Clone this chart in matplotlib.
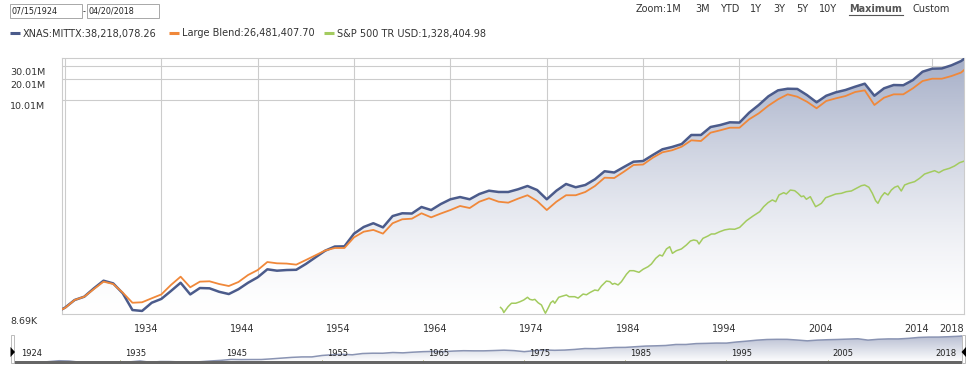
import numpy as np
import matplotlib
matplotlib.use('Agg')
import matplotlib.pyplot as plt
from matplotlib.colors import LinearSegmentedColormap
from matplotlib.patches import Rectangle, Polygon

plt.rcParams['font.family'] = ['DejaVu Sans']

# dates as fractional years
start_t = 1924.535   # 07/15/1924
end_t = 2018.30      # 04/20/2018
start_k = 10.0       # growth of 10K

# year-end values (Dec 31 of each year), in thousands
year_end = np.arange(1924, 2018)
mittx_k = [10.8, 13.9, 15.5, 20.4, 26.2, 24.0, 17.3, 10.0, 9.7, 12.7,
           14.4, 18.7, 24.5, 16.7, 20.6, 20.4, 18.2, 16.9, 19.8, 24.5,
           29.3, 38.1, 36.4, 37.2, 37.5, 45.4, 56.5, 70.2, 80.5, 81.0,
           123, 153, 173, 151, 219, 240, 238, 295, 267, 325,
           380, 409, 380, 452, 504, 483, 483, 527, 588, 515,
           380, 504, 628, 564, 608, 733, 955, 916, 1097, 1306,
           1336, 1626, 1963, 2118, 2335, 3141, 3141, 4083, 4356, 4764,
           4720, 6531, 8414, 11194, 13614, 14355, 14250, 11670, 9183, 11400,
           12764, 13772, 15346, 16943, 11400, 14555, 16218, 16100, 19099, 25119,
           27733, 27970, 30974, 35650]
blend_k = [10.7, 13.9, 15.5, 19.9, 25.4, 23.5, 17.7, 12.7, 12.9, 14.7,
           16.7, 22.8, 29.9, 21.1, 25.4, 25.7, 23.5, 22.0, 25.1, 31.6,
           37.2, 48.4, 46.4, 46.0, 44.4, 51.7, 60.4, 70.6, 76.7, 76.7,
           109, 131, 139, 123, 173, 197, 201, 240, 210, 238,
           267, 305, 285, 351, 393, 351, 340, 387, 434, 359,
           267, 351, 434, 434, 483, 588, 772, 764, 940, 1172,
           1191, 1489, 1778, 1901, 2138, 2636, 2576, 3388, 3664, 3990,
           3990, 5260, 6397, 8222, 10139, 11940, 11041, 9376, 7551, 9594,
           10471, 11298, 12882, 13614, 8414, 10691, 11940, 11940, 14555, 18493,
           19953, 19953, 21777, 24434]
mittx_last = 38218.07826
blend_last = 26481.40770

# S&P 500 TR (starts 1970)
sp_t = [1970.20, 1970.40, 1970.54, 1970.99, 1971.34, 1971.78, 1972.20, 1972.61,
        1973.00, 1973.24, 1973.52, 1973.76, 1974.10, 1974.45, 1974.69, 1974.86,
        1975.13, 1975.41, 1975.65, 1975.83, 1976.24, 1976.63, 1977.04, 1977.31,
        1977.90, 1978.25, 1978.77, 1979.12, 1979.46, 1979.98, 1980.32, 1980.67,
        1981.19, 1981.54, 1981.82, 1982.05, 1982.40, 1982.75, 1983.27, 1983.61,
        1984.02, 1984.57, 1984.99, 1985.51, 1985.86, 1986.31, 1986.72, 1987.00,
        1987.42, 1987.76, 1988.04, 1988.45, 1988.97, 1989.49, 1989.91, 1990.25,
        1990.59, 1990.80, 1991.21, 1991.73, 1992.08, 1992.43, 1992.95, 1993.46,
        1993.98, 1994.50, 1995.02, 1995.72, 1996.40, 1997.10, 1997.51, 1997.96,
        1998.41, 1998.76, 1999.10, 1999.59, 1999.86, 2000.28, 2000.73, 2001.07,
        2001.42, 2001.66, 2001.94, 2002.35, 2002.62, 2002.90, 2003.22, 2003.50,
        2003.94, 2004.53, 2004.98, 2005.57, 2006.09, 2006.61, 2007.13, 2007.65,
        2007.99, 2008.43, 2008.79, 2009.13, 2009.37, 2009.72, 2010.06, 2010.41,
        2010.76, 2011.10, 2011.44, 2011.79, 2012.14, 2012.58, 2013.17, 2013.69,
        2014.21, 2014.73, 2015.25, 2015.69, 2016.18, 2016.80, 2017.32, 2017.84,
        2018.30]
sp_k = [10.9, 10.2, 9.2, 11.2, 12.5, 12.5, 13.1, 13.9,
        15.2, 14.2, 13.9, 14.2, 12.7, 11.8, 10.0, 9.0,
        10.6, 12.7, 13.5, 12.5, 15.2, 15.8, 16.4, 15.5,
        15.5, 14.8, 16.9, 16.5, 17.7, 19.3, 18.9, 22.0,
        25.9, 25.4, 23.3, 24.0, 22.8, 25.4, 32.4, 36.4,
        36.4, 34.5, 38.1, 41.5, 45.4, 54.7, 61.0, 59.0,
        74.3, 80.0, 64.4, 70.2, 74.3, 84.7, 96.6, 99.8,
        97.5, 87.5, 105.4, 113.8, 121.6, 121.6, 131, 139,
        143, 142, 151, 188, 219, 253, 298, 340,
        372, 351, 438, 472, 452, 515, 504, 462,
        414, 424, 380, 414, 351, 298, 315, 333,
        400, 428, 452, 462, 488, 499, 545, 594,
        608, 564, 462, 363, 333, 414, 472, 438,
        515, 564, 588, 499, 608, 643, 678, 757,
        871, 922, 972, 910, 993, 1052, 1135, 1265,
        1328.40498]

legend_names = ['XNAS:MITTX:38,218,078.26', 'Large Blend:26,481,407.70',
                'S&P 500 TR USD:1,328,404.98']
colors = ['#4b5b8b', '#f0883a', '#a3cb5f']

y_ticks = [10.01e6, 20.01e6, 30.01e6]
y_labels = ['10.01M', '20.01M', '30.01M']
y_bottom = 8690
y_top = 39.0e6
grid_years = np.arange(1925, 2016, 10)       # year-end 1924 .. 2014
x_labels = [str(y - 1) for y in grid_years]
nav_years = np.arange(1935, 2006, 10)

zoom_words = ['Zoom:1M', '3M', 'YTD', '1Y', '3Y', '5Y', '10Y', 'Maximum', 'Custom']
zoom_x = [636, 695, 720, 750, 773, 796, 819, 849, 913]

W, H = 979, 381
fig = plt.figure(figsize=(W / 100, H / 100), dpi=100)

t = np.concatenate([[start_t], year_end + 1.0, [end_t]])
mittx = np.array([start_k] + mittx_k + [mittx_last]) * 1000
blend = np.array([start_k] + blend_k + [blend_last]) * 1000
sp = np.array(sp_k) * 1000

grid_c = '#cccccc'
text_c = '#333333'


def gradient_fill(ax, x, y, base, top_color, power=1.0):
    cmap = LinearSegmentedColormap.from_list('fade', ['#ffffff', top_color])
    grad = np.linspace(0, 1, 256).reshape(-1, 1) ** power
    img = ax.imshow(grad, extent=[0, 1, 0, 1], transform=ax.transAxes,
                    origin='lower', cmap=cmap, aspect='auto', zorder=1,
                    interpolation='bilinear')
    verts = list(zip(x, y)) + [(x[-1], base), (x[0], base)]
    poly = Polygon(verts, closed=True, transform=ax.transData, facecolor='none',
                   edgecolor='none')
    ax.add_patch(poly)
    img.set_clip_path(poly)


# main chart
ax = fig.add_axes([62 / W, (H - 314.3) / H, 902 / W, 256 / H])
ax.set_yscale('log')
gradient_fill(ax, t, mittx, 1000, '#a6afc8', power=1.4)
ax.plot(t, mittx, color=colors[0], lw=1.8, zorder=3, solid_joinstyle='round')
ax.plot(t, blend, color=colors[1], lw=1.3, zorder=4, solid_joinstyle='round')
ax.plot(sp_t, sp, color=colors[2], lw=1.1, zorder=5, solid_joinstyle='round')
ax.set_xlim(1924.69, end_t)
ax.set_ylim(y_bottom, y_top)
ax.set_xticks(grid_years)
ax.set_yticks(y_ticks)
ax.yaxis.set_minor_locator(matplotlib.ticker.NullLocator())
ax.tick_params(length=0, labelbottom=False, labelleft=False)
ax.grid(True, color=grid_c, lw=0.8, zorder=0)
ax.set_axisbelow(True)
for s in ax.spines.values():
    s.set_color(grid_c)
    s.set_linewidth(0.8)

for v, lab in zip(y_ticks, y_labels):
    ax.annotate(lab, xy=(10, v), xycoords=('figure pixels', 'data'),
                xytext=(0, -1.5), textcoords='offset points',
                ha='left', va='top', fontsize=6.8, color=text_c)
ax.annotate('8.69K', xy=(10, y_bottom), xycoords=('figure pixels', 'data'),
            xytext=(0, -2), textcoords='offset points',
            ha='left', va='top', fontsize=6.8, color=text_c)

for g, lab in zip(grid_years, x_labels):
    if lab == '1924':
        continue
    ax.annotate(lab, xy=(g, 0), xycoords=('data', 'axes fraction'),
                xytext=(-2.2, -10.8), textcoords='offset points',
                ha='right', va='center', fontsize=7, color=text_c)
ax.annotate('2018', xy=(end_t, 0), xycoords=('data', 'axes fraction'),
            xytext=(0, -10.8), textcoords='offset points',
            ha='right', va='center', fontsize=7, color=text_c)

# navigator
nav = fig.add_axes([14 / W, (H - 362) / H, 948 / W, 28 / H])
nav.set_yscale('log')
gradient_fill(nav, t, mittx, 100, '#b3bacf', power=1.0)
nav.plot(t, mittx, color='#8a94b3', lw=1.1, zorder=3)
nav.set_xlim(start_t, end_t)
nav.set_ylim(1.8e4, 6.9e7)
nav.axis('off')
nav.annotate('1924', xy=(start_t, 0.29), xycoords=('data', 'axes fraction'),
             xytext=(5, 0), textcoords='offset points',
             ha='left', va='center', fontsize=6, color='#222222')
for y in nav_years:
    nav.annotate(str(y), xy=(y, 0.29), xycoords=('data', 'axes fraction'),
                 xytext=(3.6, 0), textcoords='offset points',
                 ha='left', va='center', fontsize=6, color='#222222')
    nav.plot([y, y], [0.0, 0.07], transform=nav.get_xaxis_transform(),
             color='#c9c9a0', lw=0.7)
nav.annotate('2018', xy=(end_t, 0.29), xycoords=('data', 'axes fraction'),
             xytext=(-3.6, 0), textcoords='offset points',
             ha='right', va='center', fontsize=6, color='#222222')

# overlay in pixel coordinates for the header and navigator handles
ov = fig.add_axes([0, 0, 1, 1], zorder=10)
ov.set_xlim(0, W)
ov.set_ylim(H, 0)
ov.axis('off')
ov.patch.set_visible(False)

ov.add_patch(Rectangle((10, 4), 72, 14, fill=False, ec='#a8a8a8', lw=0.7))
ov.add_patch(Rectangle((87.5, 4), 72, 14, fill=False, ec='#a8a8a8', lw=0.7))
ov.text(11.5, 11.5, '07/15/1924', fontsize=5.8, color='#222222', va='center')
ov.text(83, 11.5, '-', fontsize=5.8, color='#222222', va='center')
ov.text(88.5, 11.5, '04/20/2018', fontsize=5.8, color='#222222', va='center')

leg_x = [10, 169, 324]
for lx, name, c in zip(leg_x, legend_names, colors):
    ov.plot([lx, lx + 10], [33, 33], color=c, lw=2.2, solid_capstyle='butt')
    ov.text(lx + 13, 33.5, name, fontsize=7, color=text_c, va='center')

for zx, word in zip(zoom_x, zoom_words):
    if word == 'Maximum':
        ov.text(zx, 9.5, word, fontsize=7, color='#555555', va='center',
                fontweight='bold')
        ov.plot([zx, zx + 54], [15, 15], color='#555555', lw=0.8)
    else:
        ov.text(zx, 9.5, word, fontsize=7, color=text_c, va='center')

# scrollbar and handles
ov.add_patch(Rectangle((14, 361), 948, 3.2, color='#666666', lw=0))
ov.add_patch(Rectangle((11, 335), 3.5, 28, fill=False, ec='#bbbbbb', lw=0.7))
ov.add_patch(Rectangle((962, 335), 3.5, 28, fill=False, ec='#bbbbbb', lw=0.7))
ov.add_patch(Polygon([(10.5, 347), (15, 352), (10.5, 357)], color='black', lw=0))
ov.add_patch(Polygon([(966, 347), (961.5, 352), (966, 357)], color='black', lw=0))

fig.savefig('out.png', dpi=100)
